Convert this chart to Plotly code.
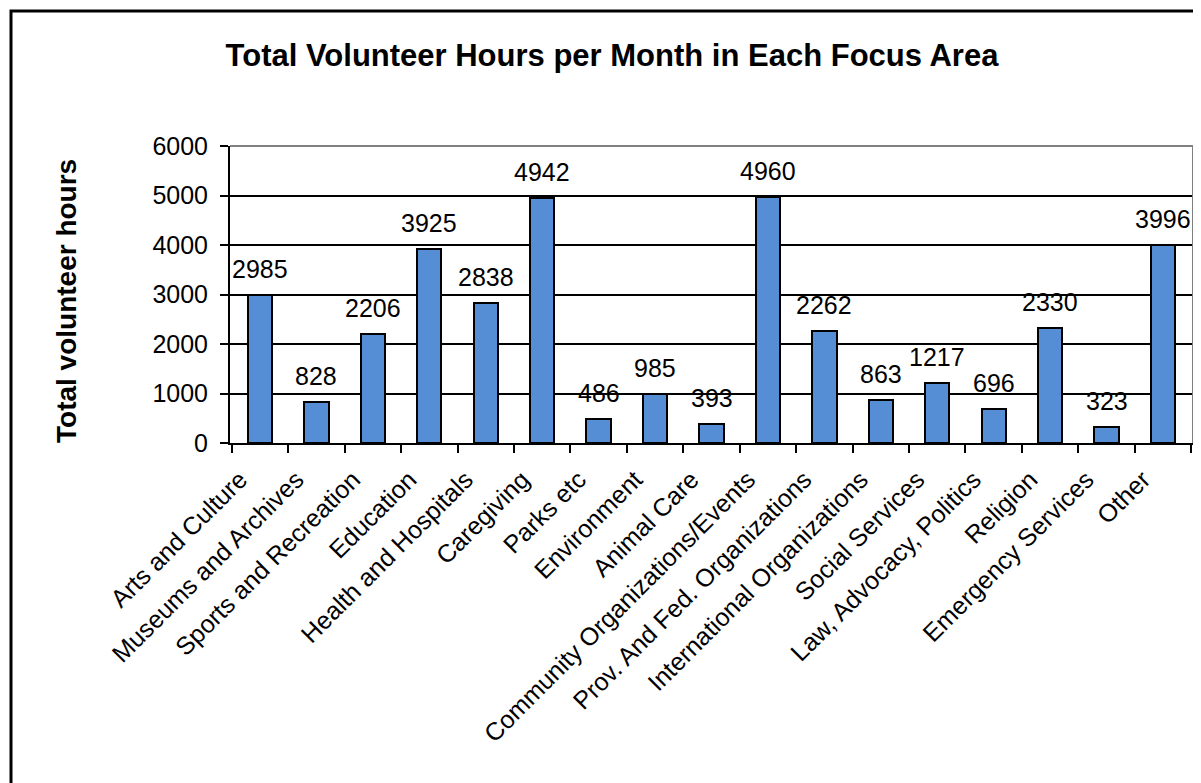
import plotly.graph_objects as go

categories = ["Arts and Culture", "Museums and Archives", "Sports and Recreation", "Education",
              "Health and Hospitals", "Caregiving", "Parks etc", "Environment", "Animal Care",
              "Community Organizations/Events", "Prov. And Fed. Organizations",
              "International Organizations", "Social Services", "Law, Advocacy, Politics",
              "Religion", "Emergency Services", "Other"]
hours = [2985, 828, 2206, 3925, 2838, 4942, 486, 985, 393, 4960, 2262, 863, 1217, 696, 2330, 323, 3996]
y_ticks = [0, 1000, 2000, 3000, 4000, 5000, 6000]

FONT = "Arial, Liberation Sans, sans-serif"
OFF = 8  # page body margin
W, H = 1201 - OFF, 783 - OFF
L, R, T, B = 230 - OFF, 1201 - 1193, 146 - OFF, 783 - 443
PW, PH = W - L - R, H - T - B


def px_x(X):
    return (X - OFF - L) / PW


def px_y(Y):
    return (H - B - (Y - OFF)) / PH


fig = go.Figure()
fig.add_trace(go.Bar(
    x=categories, y=hours,
    marker=dict(color="#558ED5", line=dict(color="black", width=2)),
    width=0.43,
))

for c, v in zip(categories, hours):
    fig.add_annotation(x=c, y=v, text=str(v), showarrow=False, yanchor="bottom",
                       yshift=10, font=dict(family=FONT, size=25, color="black"))

fig.update_layout(
    width=W, height=H,
    margin=dict(l=L, r=R, t=T, b=B, autoexpand=False),
    paper_bgcolor="white", plot_bgcolor="white",
    showlegend=False,
    bargap=0,
    font=dict(family=FONT, color="black"),
    title=dict(text="<b>Total Volunteer Hours per Month in Each Focus Area</b>",
               x=(612 - OFF) / W, xanchor="center", y=1 - (55 - OFF) / H, yanchor="middle",
               font=dict(size=31, color="black")),
)
fig.update_xaxes(
    tickangle=-45, tickfont=dict(size=25, color="black"),
    tickson="boundaries", ticks="outside", ticklen=8, tickcolor="black", tickwidth=2,
    ticklabelshift=-20, ticklabelstandoff=10,
    showline=True, linecolor="black", linewidth=2,
    showgrid=False, automargin=False,
)
fig.update_yaxes(
    range=[0, 6000], tickvals=y_ticks, tickfont=dict(size=25, color="black"),
    ticks="outside", ticklen=8, tickcolor="black", tickwidth=2,
    ticklabelstandoff=7,
    showline=True, linecolor="black", linewidth=2,
    showgrid=True, gridcolor="black", gridwidth=2,
    zeroline=False, automargin=False,
)
fig.add_annotation(xref="paper", yref="paper", x=px_x(66), y=px_y(301),
                   text="<b>Total volunteer hours</b>", textangle=-90, showarrow=False,
                   xanchor="center", yanchor="middle",
                   font=dict(family=FONT, size=28, color="black"))
# gray plot-area border on top and right
fig.add_shape(type="line", xref="paper", yref="paper", x0=0, x1=1, y0=1, y1=1,
              line=dict(color="#808080", width=2))
fig.add_shape(type="line", xref="paper", yref="paper", x0=1, x1=1, y0=0, y1=1,
              line=dict(color="#808080", width=2))
# outer chart border (left/top visible)
fig.add_shape(type="rect", xref="paper", yref="paper",
              x0=px_x(11), x1=px_x(1220), y0=px_y(800), y1=px_y(11),
              line=dict(color="black", width=3))

fig.write_html("out.html")
